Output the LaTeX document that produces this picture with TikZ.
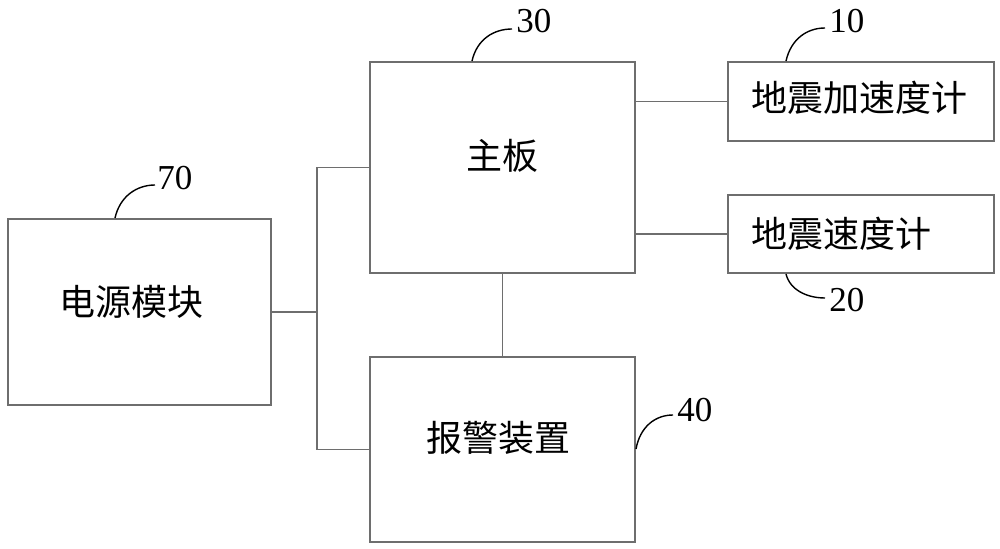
\documentclass[tikz,border=0pt]{standalone}
\usepackage{fontspec}
\setmainfont{Liberation Serif}
\newfontfamily\cjk{Noto Sans CJK SC}
\usepackage{tikz}
\usetikzlibrary{positioning}
\definecolor{linegray}{HTML}{6E6E6E}

\begin{document}
\begin{tikzpicture}[
    x=0.5pt, y=-0.5pt,
    block/.style={draw=linegray, line width=1pt, inner sep=0pt},
    blocktext/.style={font=\cjk\fontsize{18pt}{18pt}\selectfont, inner sep=0pt},
    refnum/.style={font=\fontsize{17.5pt}{17.5pt}\selectfont, inner sep=0pt, anchor=base west},
    wire/.style={draw=linegray, line width=0.75pt},
    leader/.style={draw=black, line width=0.7pt}
]
\useasboundingbox (0,0) rectangle (1000,549);

% ----- Blocks -----
\node[block, minimum width=131.5pt, minimum height=93pt] (power) at (139.5,312) {};
\node[block, minimum width=132.5pt, minimum height=105.5pt] (board) at (502.5,167.5) {};
\node[block, minimum width=132.5pt, minimum height=92.5pt] (alarm) at (502.5,449.5) {};
\node[block, minimum width=133pt, minimum height=39.5pt] (accel) at (861,101.5) {};
\node[block, minimum width=133pt, minimum height=39pt] (velo) at (861,234) {};

% ----- Block texts -----
\node[blocktext] (powertext) at ([xshift=-4pt, yshift=5pt]power.center) {电源模块};
\node[blocktext] (boardtext) at ([yshift=5.75pt]board.center) {主板};
\node[blocktext] (alarmtext) at ([xshift=-2.25pt, yshift=5.75pt]alarm.center) {报警装置};
\node[blocktext] (acceltext) at ([xshift=-1pt, yshift=1.75pt]accel.center) {地震加速度计};
\node[blocktext] (velotext) at ([xshift=-9.75pt]velo.center) {地震速度计};

% ----- Connections -----
\coordinate (bus) at ([xshift=22.5pt]power.east);
\draw[wire] (power.east) -- (bus);
\draw[wire] (board.west) -| (bus) |- (alarm.west);
\draw[wire] (board.south) -- (alarm.north);
\draw[wire] (board.east |- accel.west) -- (accel.west);
\draw[wire] (board.east |- velo.west) -- (velo.west);

% ----- Reference numbers -----
\node[refnum] (n30) at (516,33) {30};
\node[refnum] (n10) at (829,33) {10};
\node[refnum] (n70) at (157,190) {70};
\node[refnum] (n20) at (829,312) {20};
\node[refnum] (n40) at (677,422) {40};

\draw[leader] ([xshift=51.5pt]board.north west) .. controls +(5,-22) and +(-18,0) .. ([xshift=-2pt, yshift=2pt]n30.base west);
\draw[leader] ([xshift=29.5pt]accel.north west) .. controls +(5,-22) and +(-18,0) .. ([xshift=-2pt, yshift=2.5pt]n10.base west);
\draw[leader] ([xshift=54pt]power.north west) .. controls +(5,-22) and +(-18,0) .. ([xshift=-1pt, yshift=2.5pt]n70.base west);
\draw[leader] ([xshift=29.5pt]velo.south west) .. controls +(4,16) and +(-18,0) .. ([xshift=-2pt, yshift=7pt]n20.base west);
\draw[leader] ([yshift=-46.5pt]alarm.north east) .. controls +(4,-22) and +(-18,0) .. ([xshift=-2pt, yshift=3.5pt]n40.base west);

\end{tikzpicture}
\end{document}
